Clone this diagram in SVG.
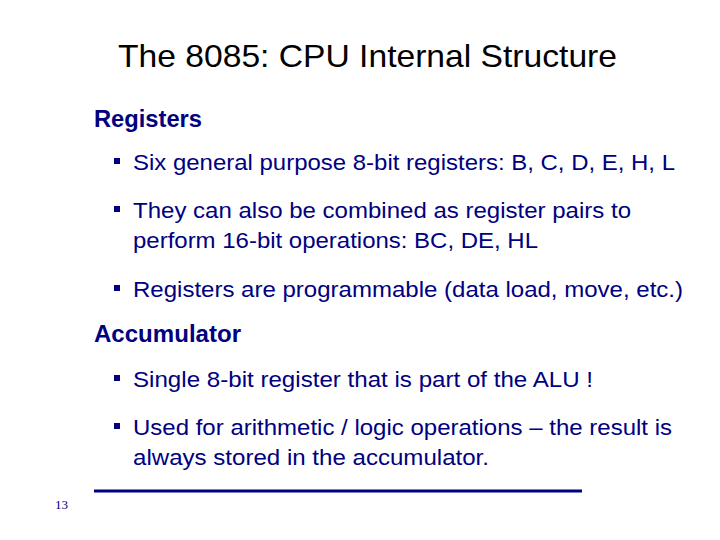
<svg xmlns="http://www.w3.org/2000/svg" width="720" height="540" viewBox="0 0 720 540">
<style>
.t{font-family:"Liberation Sans",Arial,sans-serif;fill:#000080}
.h{font-size:23px;font-weight:bold}
.b{font-size:22px}
.bl{fill:#000080}
</style>
<rect width="720" height="540" fill="#fff"/>
<text x="118" y="67" textLength="499" lengthAdjust="spacingAndGlyphs" font-family="Liberation Sans,Arial,sans-serif" font-size="32" fill="#000">The 8085: CPU Internal Structure</text>
<text class="t h" x="94" y="127" textLength="108" lengthAdjust="spacingAndGlyphs">Registers</text>
<rect class="bl" x="114" y="158" width="6" height="6"/>
<text class="t b" x="133" y="170" textLength="542" lengthAdjust="spacingAndGlyphs">Six general purpose 8-bit registers: B, C, D, E, H, L</text>
<rect class="bl" x="114" y="206" width="6" height="6"/>
<text class="t b" x="133" y="218" textLength="498" lengthAdjust="spacingAndGlyphs">They can also be combined as register pairs to</text>
<text class="t b" x="133" y="248" textLength="405" lengthAdjust="spacingAndGlyphs">perform 16-bit operations: BC, DE, HL</text>
<rect class="bl" x="114" y="285" width="6" height="6"/>
<text class="t b" x="133" y="297" textLength="550" lengthAdjust="spacingAndGlyphs">Registers are programmable (data load, move, etc.)</text>
<text class="t h" x="94" y="342" textLength="147" lengthAdjust="spacingAndGlyphs">Accumulator</text>
<rect class="bl" x="114" y="375" width="6" height="6"/>
<text class="t b" x="133" y="387" textLength="460" lengthAdjust="spacingAndGlyphs">Single 8-bit register that is part of the ALU !</text>
<rect class="bl" x="114" y="423" width="6" height="6"/>
<text class="t b" x="133" y="435" textLength="539" lengthAdjust="spacingAndGlyphs">Used for arithmetic / logic operations – the result is</text>
<text class="t b" x="133" y="465" textLength="356" lengthAdjust="spacingAndGlyphs">always stored in the accumulator.</text>
<line x1="94" y1="491" x2="582" y2="491" stroke="#000080" stroke-width="3"/>
<text x="55" y="509" font-family="Liberation Serif,serif" font-size="13" fill="#000080">13</text>
</svg>
